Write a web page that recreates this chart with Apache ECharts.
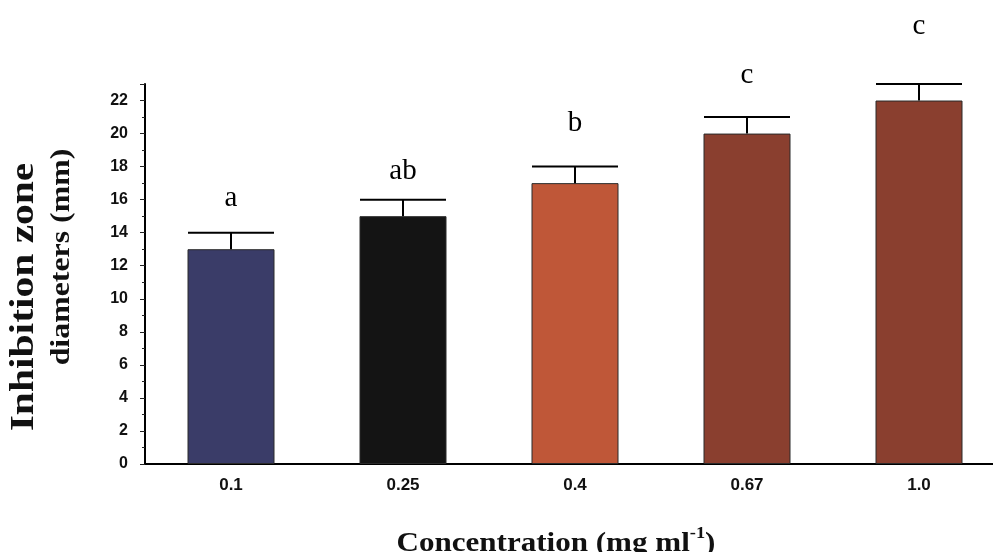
<!DOCTYPE html>
<html>
<head>
<meta charset="utf-8">
<script src="https://cdn.jsdelivr.net/npm/echarts@6/dist/echarts.min.js"></script>
<style>
html, body { margin: 0; padding: 0; background: #fff; }
#chart { width: 993px; height: 552px; }
</style>
</head>
<body>
<div id="chart"></div>
<script>
// inhibition zone diameters by concentration
var categories = ['0.1', '0.25', '0.4', '0.67', '1.0'];
var means = [13, 15, 17, 20, 22];
var errs = [1, 1, 1, 1, 1];
var letters = ['a', 'ab', 'b', 'c', 'c'];
var letterY = [16.1, 17.7, 20.6, 23.5, 26.5];
var barColors = ['#3a3c68', '#141414', '#bf5738', '#8a3f2f', '#8a3f2f'];
var yTicks = [0, 2, 4, 6, 8, 10, 12, 14, 16, 18, 20, 22];

var chart = echarts.init(document.getElementById('chart'));

var barData = [];
var errData = [];
var letterData = [];
for (var i = 0; i < categories.length; i++) {
	barData.push({
		value : means[i],
		itemStyle : { color : barColors[i] }
	});
	errData.push([ i, means[i], errs[i] ]);
	letterData.push([ i, letterY[i] ]);
}

chart.setOption({
	animation : false,
	backgroundColor : '#fff',
	grid : {
		left : 145,
		top : 84,
		right : -12,
		bottom : 88,
		outerBoundsMode : 'none'
	},
	xAxis : [ {
		type : 'category',
		data : categories,
		axisLine : { lineStyle : { color : '#000', width : 2 } },
		axisTick : { show : false },
		axisLabel : {
			color : '#111',
			fontSize : 17,
			fontWeight : 'bold',
			fontFamily : 'Liberation Sans',
			margin : 13
		}
	}, {
		type : 'category',
		data : ['', '', '', '', '', '', '', '', '', ''],
		position : 'bottom',
		axisLine : { show : false },
		axisLabel : { show : false },
		axisTick : { length : 5, lineStyle : { color : '#222', width : 1 } }
	} ],
	yAxis : {
		type : 'value',
		min : 0,
		max : 23,
		interval : 2,
		splitLine : { show : false },
		axisLine : { show : true, lineStyle : { color : '#000', width : 2 } },
		axisTick : { show : true, length : 5, lineStyle : { color : '#222' } },
		minorTick : { show : true, splitNumber : 2, length : 3, lineStyle : { color : '#222' } },
		axisLabel : {
			showMaxLabel : false,
			color : '#111',
			fontSize : 16,
			fontWeight : 'bold',
			fontFamily : 'Liberation Sans',
			margin : 17,
			formatter : function(v) {
				return yTicks.indexOf(v) >= 0 ? String(v) : '';
			}
		}
	},
	series : [ {
		type : 'bar',
		data : barData,
		barWidth : 87,
		itemStyle : { borderColor : '#2a2a2a', borderWidth : 1 }
	}, {
		type : 'custom',
		data : errData,
		z : 5,
		renderItem : function(params, api) {
			var x = api.value(0);
			var y = api.value(1);
			var e = api.value(2);
			var base = api.coord([ x, y ]);
			var top = api.coord([ x, y + e ]);
			var half = api.size([ 1, 0 ])[0] * 0.5 / 2;
			var style = { stroke : '#000', lineWidth : 2 };
			return {
				type : 'group',
				children : [ {
					type : 'line',
					shape : { x1 : base[0], y1 : base[1], x2 : top[0], y2 : top[1] },
					style : style
				}, {
					type : 'line',
					shape : { x1 : top[0] - half, y1 : top[1], x2 : top[0] + half, y2 : top[1] },
					style : style
				} ]
			};
		}
	}, {
		type : 'scatter',
		data : letterData,
		clip : false,
		symbolSize : 1,
		itemStyle : { color : 'rgba(0,0,0,0)', opacity : 1 },
		label : {
			show : true,
			position : 'inside',
			color : '#000',
			fontSize : 29,
			fontFamily : 'Liberation Serif',
			formatter : function(p) {
				return letters[p.dataIndex];
			}
		}
	} ],
	graphic : [ {
		type : 'text',
		x : 24,
		y : 297,
		rotation : Math.PI / 2,
		scaleX : 1.22,
		style : {
			text : 'Inhibition zone',
			font : 'bold 34px "Liberation Serif"',
			fill : '#111',
			align : 'center',
			verticalAlign : 'middle'
		}
	}, {
		type : 'text',
		x : 62,
		y : 257,
		rotation : Math.PI / 2,
		scaleX : 1.18,
		style : {
			text : 'diameters (mm)',
			font : 'bold 27px "Liberation Serif"',
			fill : '#111',
			align : 'center',
			verticalAlign : 'middle'
		}
	}, {
		type : 'text',
		x : 556,
		y : 542,
		scaleX : 1.15,
		style : {
			text : '{t|Concentration (mg ml}{s|-1}{t|)}',
			align : 'center',
			verticalAlign : 'middle',
			rich : {
				t : { font : 'bold 27px "Liberation Serif"', fill : '#111', verticalAlign : 'bottom' },
				s : { font : 'bold 16px "Liberation Serif"', fill : '#111', verticalAlign : 'top', padding : [0, 0, 16, 0] }
			}
		}
	} ]
});
</script>
</body>
</html>
